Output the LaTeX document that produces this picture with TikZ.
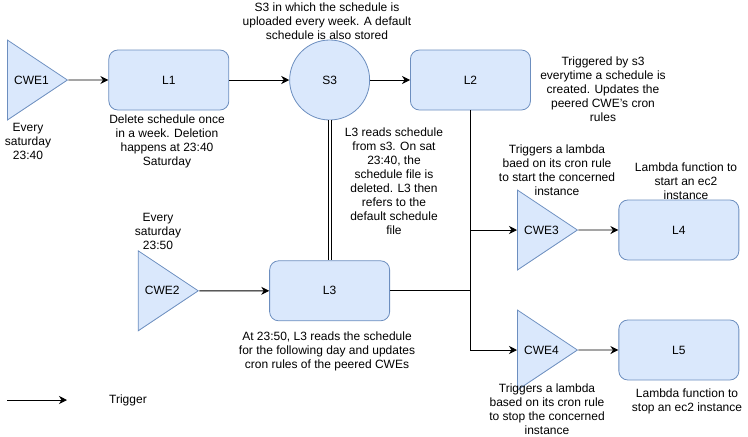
\documentclass[tikz,border=0pt]{standalone}
\usepackage{fontspec}
\setmainfont{Liberation Sans}
\usetikzlibrary{positioning,shapes.geometric,arrows.meta}

\definecolor{boxfill}{HTML}{DAE8FC}
\definecolor{boxline}{HTML}{6C8EBF}
\newcommand{\notefont}{\fontsize{12pt}{14pt}\selectfont}

\tikzset{
    lambdabox/.style={draw=boxline, fill=boxfill, line width=0.8pt, rounded corners=9pt,
        minimum width=120pt, minimum height=60pt, font=\notefont},
    bucket/.style={circle, draw=boxline, fill=boxfill, line width=0.8pt,
        minimum size=80pt, font=\notefont},
    cwe/.style={isosceles triangle, isosceles triangle stretches, shape border rotate=0,
        draw=boxline, fill=boxfill, line width=0.8pt, inner sep=0pt,
        minimum width=80pt, minimum height=60pt, font=\notefont},
    note/.style={align=center, inner sep=0pt, font=\notefont},
    trg/.style={line width=0.9pt, -{Stealth[length=8pt,width=8pt,inset=2.5pt]}},
}

\begin{document}
\begin{tikzpicture}[x=1pt, y=-1pt]
    \useasboundingbox (0,0) rectangle (748,437);
    % shapes
    \node[cwe, anchor=west] (cwe1) at (7,80) {CWE1};
    \node[lambdabox, right=40pt of cwe1] (l1) {L1};
    \node[bucket, right=60pt of l1] (s3) {S3};
    \node[lambdabox, right=40pt of s3] (l2) {L2};
    \node[lambdabox, below=140pt of s3] (l3) {L3};
    \node[cwe, left=70pt of l3] (cwe2) {CWE2};
    \node[cwe, anchor=west] (cwe3) at (517,230) {CWE3};
    \node[lambdabox, right=40pt of cwe3] (l4) {L4};
    \node[cwe, anchor=west] (cwe4) at (517,350) {CWE4};
    \node[lambdabox, right=40pt of cwe4] (l5) {L5};

    % connectors
    \draw[trg] (cwe1) -- (l1);
    \draw[trg] (l1) -- (s3);
    \draw[trg] (s3) -- (l2);
    \draw[trg] (cwe2) -- (l3);
    \draw[trg] (cwe3) -- (l4);
    \draw[trg] (cwe4) -- (l5);
    \draw[trg] (l2.south) |- (cwe3.west);
    \draw[trg] (l2.south) |- (cwe4.west);
    \draw[line width=0.9pt] (l3.east) -- (l3.east -| l2.south);
    \draw[double, double distance=2pt, line width=0.9pt] (s3) -- (l3);

    % notes
    \node[note] (s3note) at (327,21) {S3 in which the schedule is\\uploaded every week. A default\\schedule is also stored};
    \node[note] (cwe1note) at (28,141) {Every\\saturday\\23:40};
    \node[note] (l1note) at (167,141) {Delete schedule once\\in a week. Deletion\\happens at 23:40\\Saturday};
    \node[note] (l2note) at (603,89) {Triggered by s3\\everytime a schedule is\\created. Updates the\\peered CWE's cron\\rules};
    \node[note] (l3read) at (394,181) {L3 reads schedule\\from s3. On sat\\23:40, the\\schedule file is\\deleted. L3 then\\refers to the\\default schedule\\file};
    \node[note] (cwe3note) at (557,170) {Triggers a lambda\\baed on its cron rule\\to start the concerned\\instance};
    \node[note] (l4note) at (686,181) {Lambda function to\\start an ec2\\instance};
    \node[note] (cwe2note) at (158,231) {Every\\saturday\\23:50};
    \node[note] (l3note) at (327,351) {At 23:50, L3 reads the schedule\\for the following day and updates\\cron rules of the peered CWEs};
    \node[note] (cwe4note) at (547,409) {Triggers a lambda\\based on its cron rule\\to stop the concerned\\instance};
    \node[note] (l5note) at (687,401) {Lambda function to\\stop an ec2 instance};

    % legend
    \coordinate (lgs) at (7,400);
    \coordinate (lge) at (67,400);
    \draw[trg] (lgs) -- (lge);
    \node[note, anchor=west, right=42pt of lge] (lgtext) {Trigger};
\end{tikzpicture}
\end{document}
